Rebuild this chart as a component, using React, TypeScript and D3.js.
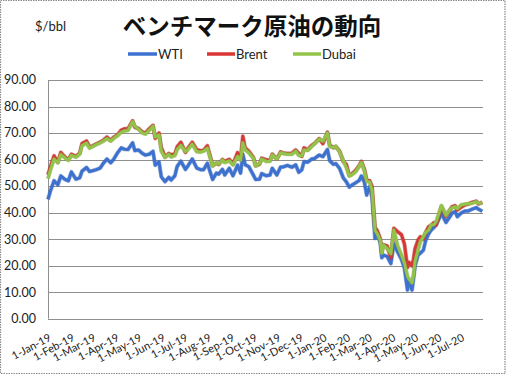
import React from "react";
import * as d3 from "d3";

const dates: string[] = [
  "2019-01-01","2019-01-04","2019-01-09","2019-01-14","2019-01-18","2019-01-23","2019-01-28",
  "2019-02-01","2019-02-07","2019-02-12","2019-02-15","2019-02-21","2019-02-25",
  "2019-03-01","2019-03-06","2019-03-11","2019-03-15","2019-03-20","2019-03-25","2019-03-29",
  "2019-04-03","2019-04-08","2019-04-12","2019-04-17","2019-04-23","2019-04-26",
  "2019-05-01","2019-05-06","2019-05-10","2019-05-15","2019-05-20","2019-05-23","2019-05-28","2019-05-31",
  "2019-06-05","2019-06-10","2019-06-13","2019-06-18","2019-06-21","2019-06-26",
  "2019-07-02","2019-07-05","2019-07-11","2019-07-17","2019-07-22","2019-07-26","2019-07-31",
  "2019-08-07","2019-08-12","2019-08-15","2019-08-20","2019-08-23","2019-08-29",
  "2019-09-03","2019-09-09","2019-09-13","2019-09-16","2019-09-19","2019-09-24","2019-09-30",
  "2019-10-03","2019-10-08","2019-10-11","2019-10-17","2019-10-22","2019-10-25","2019-10-31",
  "2019-11-05","2019-11-08","2019-11-14","2019-11-20","2019-11-25","2019-11-29",
  "2019-12-03","2019-12-06","2019-12-11","2019-12-16","2019-12-20","2019-12-26","2019-12-31",
  "2020-01-06","2020-01-09","2020-01-14","2020-01-17","2020-01-22","2020-01-27","2020-01-31",
  "2020-02-04","2020-02-07","2020-02-12","2020-02-17","2020-02-20","2020-02-24","2020-02-27",
  "2020-03-02","2020-03-05","2020-03-09","2020-03-12","2020-03-16","2020-03-18","2020-03-20","2020-03-25","2020-03-30",
  "2020-04-03","2020-04-08","2020-04-13","2020-04-17","2020-04-21","2020-04-23","2020-04-27","2020-04-29",
  "2020-05-01","2020-05-05","2020-05-08","2020-05-12","2020-05-15","2020-05-19","2020-05-22","2020-05-26","2020-05-29",
  "2020-06-05","2020-06-11","2020-06-16","2020-06-19","2020-06-23","2020-06-26",
  "2020-07-01","2020-07-06","2020-07-10","2020-07-15","2020-07-21","2020-07-24","2020-07-29",
];

const wti: number[] = [
  45.0,48.0,52.0,50.5,53.8,52.6,52.0,
  55.3,52.6,53.1,55.6,57.0,55.5,
  55.8,56.2,56.8,58.5,60.2,58.8,60.1,
  62.5,64.4,63.9,63.8,66.3,63.4,
  63.6,62.3,61.7,62.0,63.1,57.9,59.1,53.5,
  51.7,53.3,52.3,53.9,57.4,59.4,
  56.3,57.5,60.2,56.8,56.2,56.2,58.6,
  52.5,54.9,54.5,56.3,54.2,56.7,
  53.9,57.9,54.9,62.0,58.1,57.3,54.1,
  52.5,52.6,54.7,53.9,54.2,56.7,54.2,
  57.2,57.2,57.8,57.1,58.0,55.2,
  56.1,59.2,59.0,60.2,60.4,61.7,61.1,
  63.8,59.6,58.2,58.5,56.7,53.1,51.6,
  49.6,50.3,51.2,52.1,53.8,51.4,46.6,
  49.8,45.9,30.3,31.5,28.7,23.0,24.0,23.5,20.8,
  28.3,25.1,22.4,19.0,10.8,14.6,10.8,15.1,
  19.8,24.0,24.7,25.8,29.4,32.0,33.3,34.4,35.5,
  39.6,36.3,38.4,39.8,40.4,38.5,
  39.8,40.6,40.6,41.2,41.9,41.3,40.5,
];

const brent: number[] = [
  54.3,57.1,61.4,59.0,62.7,61.1,60.0,
  62.0,61.2,62.4,66.0,67.0,64.8,
  65.1,65.9,66.6,67.2,68.5,67.2,68.4,
  69.3,71.1,71.6,71.6,74.6,72.2,
  71.7,70.4,70.0,71.6,72.9,68.0,70.0,64.5,
  61.0,62.3,61.8,62.1,64.8,66.5,
  62.7,64.2,66.5,63.7,63.3,63.5,65.2,
  57.8,58.6,58.2,60.0,59.3,60.1,
  58.3,62.6,60.2,68.8,64.4,63.1,60.8,
  57.7,58.2,60.5,59.9,59.7,62.0,60.2,
  62.9,62.5,62.3,62.4,63.6,62.4,
  61.2,64.4,63.7,65.3,66.1,67.9,66.0,
  70.3,65.4,64.5,64.9,63.2,59.3,58.2,
  54.0,54.5,55.8,57.7,59.3,56.3,52.2,
  52.0,49.9,34.4,33.2,30.1,25.2,27.9,27.4,23.0,
  34.1,32.8,31.7,28.1,19.3,21.3,19.9,22.5,
  26.4,29.7,30.9,30.0,32.5,34.7,35.1,36.2,35.3,
  42.3,38.6,40.9,42.2,42.6,41.0,
  42.0,42.9,43.2,43.8,44.3,43.3,43.9,
];

const dubai: number[] = [
  52.8,55.9,60.2,58.8,61.9,60.7,59.7,
  61.6,60.9,62.1,65.2,66.2,64.3,
  64.9,65.7,66.3,66.9,67.9,67.0,68.0,
  69.0,70.3,70.8,71.0,74.3,72.6,
  71.4,70.0,69.6,71.0,72.6,68.5,69.3,63.2,
  60.8,62.0,61.0,61.5,63.8,65.4,
  63.0,63.7,65.8,63.0,62.8,63.2,64.3,
  57.5,58.8,58.3,59.8,58.9,59.5,
  58.0,61.2,59.8,66.3,63.7,62.5,60.5,
  57.6,58.4,60.2,59.3,59.4,61.8,60.2,
  62.6,62.3,62.0,62.0,63.2,61.6,
  61.4,63.6,63.5,64.9,66.0,67.7,66.9,
  70.0,65.0,64.5,65.0,63.0,59.6,57.0,
  53.8,54.2,55.3,57.4,58.9,55.8,51.8,
  51.5,48.5,33.4,32.0,29.5,24.7,27.8,26.5,24.5,
  33.4,27.5,24.0,21.0,16.0,15.0,13.5,16.5,
  21.5,25.9,29.0,31.0,32.5,33.4,35.3,35.5,36.6,
  42.6,39.0,41.0,41.8,42.2,41.5,
  42.9,43.2,43.3,43.5,44.1,43.5,43.6,
];

const seriesNames: string[] = ["WTI", "Brent", "Dubai"];
const seriesColors: string[] = ["#3d71d0", "#d93636", "#93c449"];
const yTicks: number[] = [0, 10, 20, 30, 40, 50, 60, 70, 80, 90];
const xTickDates: string[] = [
  "2019-01-01","2019-02-01","2019-03-01","2019-04-01","2019-05-01","2019-06-01",
  "2019-07-01","2019-08-01","2019-09-01","2019-10-01","2019-11-01","2019-12-01",
  "2020-01-01","2020-02-01","2020-03-01","2020-04-01","2020-05-01","2020-06-01","2020-07-01",
];
const xTickLabels: string[] = [
  "1-Jan-19","1-Feb-19","1-Mar-19","1-Apr-19","1-May-19","1-Jun-19",
  "1-Jul-19","1-Aug-19","1-Sep-19","1-Oct-19","1-Nov-19","1-Dec-19",
  "1-Jan-20","1-Feb-20","1-Mar-20","1-Apr-20","1-May-20","1-Jun-20","1-Jul-20",
];

const W = 506;
const H = 376;
const plot = { left: 48, right: 483, top: 80, bottom: 318.7 };
const parse = d3.timeParse("%Y-%m-%d");
const FONT = "Lato, 'Noto Sans', sans-serif";

export default function App() {
  const x = d3
    .scaleTime()
    .domain([parse("2019-01-01") as Date, parse("2020-07-30") as Date])
    .range([plot.left, plot.right]);
  const y = d3.scaleLinear().domain([0, 90]).range([plot.bottom, plot.top]);
  const parsed = dates.map((d) => parse(d) as Date);
  const allSeries = [wti, brent, dubai];
  const line = d3
    .line<number>()
    .x((_, i) => x(parsed[i]))
    .y((v) => y(v));

  const legendPos = [
    { x1: 128, x2: 157 },
    { x1: 207, x2: 235 },
    { x1: 293, x2: 321 },
  ];

  return (
    <svg
      width={W}
      height={H}
      style={{ position: "absolute", left: 0, top: 0, background: "#fff" }}
    >
      <rect x={0} y={0} width={W} height={H} fill="#fff" />
      <rect
        x={0.5}
        y={0.5}
        width={504.5}
        height={373}
        fill="none"
        stroke="#888"
        strokeWidth={1.2}
        strokeDasharray="1.5 1"
      />
      <text
        x={252}
        y={34.5}
        textAnchor="middle"
        fontFamily="'Noto Sans CJK JP', sans-serif"
        fontWeight="bold"
        fontSize={23.5}
        fill="#111"
      >
        ベンチマーク原油の動向
      </text>
      <text x={35} y={31} fontFamily={FONT} fontSize={13} fill="#222">
        $/bbl
      </text>
      {seriesNames.map((n, i) => (
        <g key={n}>
          <line
            x1={legendPos[i].x1}
            x2={legendPos[i].x2}
            y1={54}
            y2={54}
            stroke={seriesColors[i]}
            strokeWidth={3.5}
          />
          <text
            x={legendPos[i].x2 + 1}
            y={58.5}
            fontFamily={FONT}
            fontSize={13}
            fill="#222"
          >
            {n}
          </text>
        </g>
      ))}
      {yTicks.map((t) => (
        <g key={t}>
          <line
            x1={plot.left}
            x2={plot.right}
            y1={Math.round(y(t)) + 0.5}
            y2={Math.round(y(t)) + 0.5}
            stroke="#8f8f8f"
            strokeWidth={1}
          />
          <text
            x={36}
            y={y(t)}
            dy="0.35em"
            textAnchor="end"
            fontFamily={FONT}
            fontSize={12.5}
            fill="#222"
          >
            {t.toFixed(2)}
          </text>
        </g>
      ))}
      <line
        x1={plot.left + 0.5}
        x2={plot.left + 0.5}
        y1={plot.top}
        y2={plot.bottom}
        stroke="#8f8f8f"
      />
      {xTickDates.map((d, i) => {
        const px = x(parse(d) as Date) + 4;
        return (
          <text
            key={d}
            transform={`translate(${px},340) rotate(-28)`}
            textAnchor="end"
            fontFamily={FONT}
            fontSize={11}
            fill="#222"
          >
            {xTickLabels[i]}
          </text>
        );
      })}
      {allSeries.map((s, i) => (
        <g key={seriesNames[i]}>
          <path
            d={line(s) || ""}
            fill="none"
            stroke={d3.color(seriesColors[i])!.darker(0.6).toString()}
            strokeOpacity={0.45}
            strokeWidth={4.2}
            strokeLinejoin="round"
          />
          <path
            d={line(s) || ""}
            fill="none"
            stroke={seriesColors[i]}
            strokeWidth={3}
            strokeLinejoin="round"
          />
        </g>
      ))}
    </svg>
  );
}
